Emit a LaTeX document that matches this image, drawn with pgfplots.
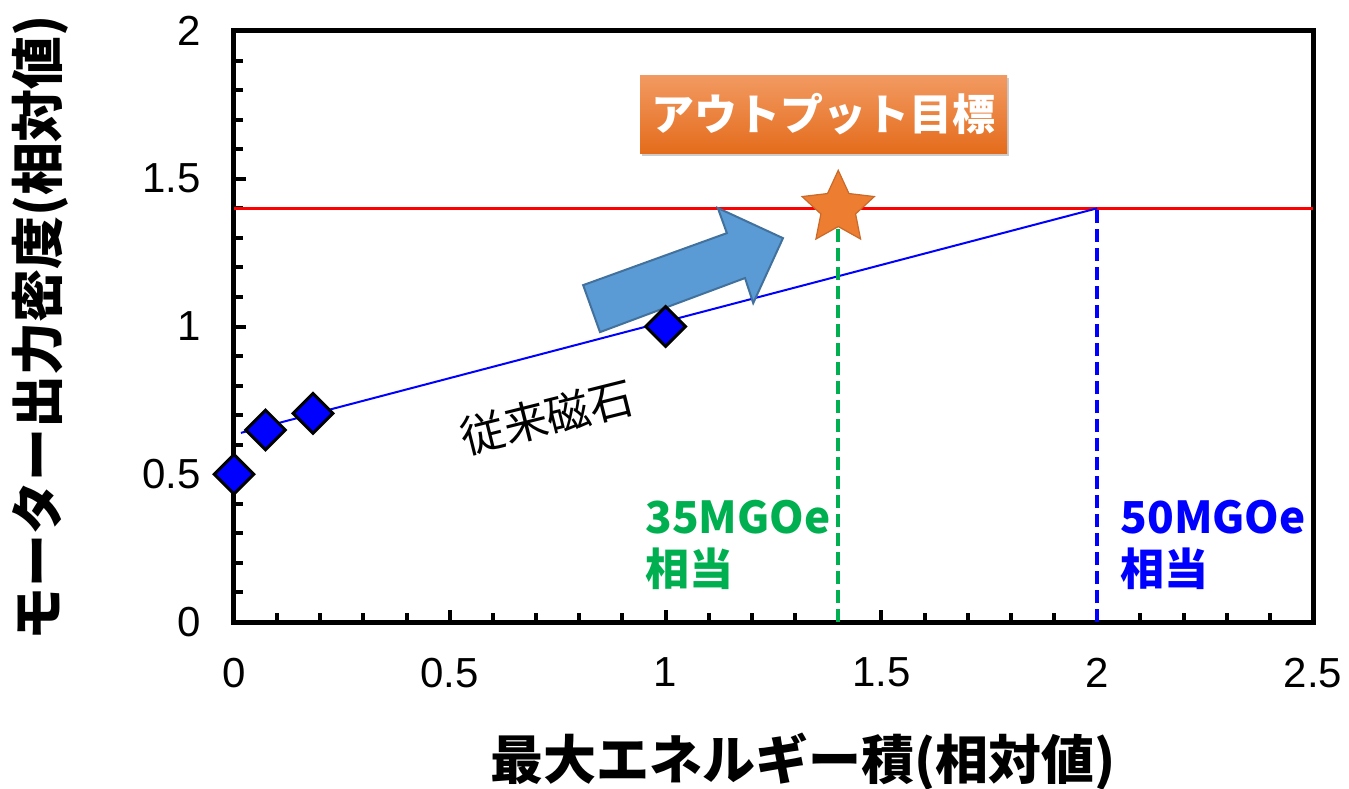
\documentclass[border=0pt]{standalone}
\usepackage{fontspec}
\usepackage{pgfplots}
\pgfplotsset{compat=1.18}
\usetikzlibrary{shadows}
\setmainfont{Liberation Sans}
\newfontfamily\jp{Noto Sans CJK JP}

\definecolor{mkblue}{RGB}{0,0,255}
\definecolor{okgreen}{RGB}{0,176,80}
\definecolor{arrowblue}{RGB}{91,155,213}
\definecolor{arrowedge}{RGB}{65,113,156}
\definecolor{starorange}{RGB}{237,125,49}
\definecolor{boxtop}{RGB}{242,154,98}
\definecolor{boxbottom}{RGB}{228,108,28}

% filled five-pointed star
\pgfdeclareplotmark{fivestar}{%
  \pgfpathmoveto{\pgfpointpolar{90}{\pgfplotmarksize}}%
  \pgfpathlineto{\pgfpointpolar{126}{0.48\pgfplotmarksize}}%
  \pgfpathlineto{\pgfpointpolar{162}{\pgfplotmarksize}}%
  \pgfpathlineto{\pgfpointpolar{198}{0.48\pgfplotmarksize}}%
  \pgfpathlineto{\pgfpointpolar{234}{\pgfplotmarksize}}%
  \pgfpathlineto{\pgfpointpolar{270}{0.48\pgfplotmarksize}}%
  \pgfpathlineto{\pgfpointpolar{306}{\pgfplotmarksize}}%
  \pgfpathlineto{\pgfpointpolar{342}{0.48\pgfplotmarksize}}%
  \pgfpathlineto{\pgfpointpolar{18}{\pgfplotmarksize}}%
  \pgfpathlineto{\pgfpointpolar{54}{0.48\pgfplotmarksize}}%
  \pgfpathclose
  \pgfusepathqfillstroke
}

\begin{document}
\begin{tikzpicture}
\begin{axis}[
  scale only axis,
  width=539.5pt, height=295.5pt,
  xmin=0, xmax=2.5, ymin=0, ymax=2,
  xtick={0,0.5,1,1.5,2,2.5},
  ytick={0,0.5,1,1.5,2},
  minor tick num=4,
  tick align=inside,
  xtick pos=left, ytick pos=left,
  major tick length=6pt, minor tick length=4.5pt,
  every tick/.style={black, line width=2pt},
  axis line style={line width=2.5pt},
  tick label style={font=\fontsize{21}{21}\selectfont},
  /pgf/number format/assume math mode=true,
  xticklabel shift=14.5pt,
  yticklabel shift=13pt,
  clip=false,
]
\coordinate (bl) at (rel axis cs:0,0);
\coordinate (tr) at (rel axis cs:1,1);
\coordinate (ylab) at (rel axis cs:0,0.497);

% target output level
\addplot[red, line width=1.5pt] coordinates {(0,1.4) (2.5,1.4)};
% trend of conventional magnets
\addplot[mkblue, line width=1pt] coordinates {(0.016,0.64) (2,1.4)};
% 35 MGOe and 50 MGOe equivalents
\addplot[okgreen, line width=2pt, dash pattern=on 6.5pt off 3pt] coordinates {(1.4,0) (1.4,1.4)};
\addplot[mkblue, line width=2pt, dash pattern=on 6.5pt off 3pt] coordinates {(2,0) (2,1.4)};

% block arrow
\draw[fill=arrowblue, draw=arrowedge, line width=1pt, line join=miter]
  (axis cs:0.848,0.981) -- (axis cs:0.809,1.140) -- (axis cs:1.142,1.316)
  -- (axis cs:1.121,1.401) -- (axis cs:1.272,1.299) -- (axis cs:1.203,1.079)
  -- (axis cs:1.184,1.164) -- cycle;

% conventional magnets
\addplot[only marks, mark=square*, mark size=7pt,
  mark options={rotate=45, fill=mkblue, draw=black, line width=1.5pt}]
  coordinates {(0,0.5) (0.073,0.65) (0.183,0.706) (1.0,1.0)};

% target
\addplot[only marks, mark=fivestar, mark size=19pt,
  mark options={fill=starorange, draw=starorange!85!black, line width=0.6pt,
    drop shadow={shadow xshift=0.8pt, shadow yshift=-0.8pt, opacity=0.35}}]
  coordinates {(1.4,1.4)};

\node[top color=boxtop, bottom color=boxbottom, minimum width=183.5pt,
  minimum height=39pt, inner sep=0pt, text=white,
  drop shadow={shadow xshift=1pt, shadow yshift=-1.5pt, opacity=0.4},
  font=\jp\bfseries\fontsize{21.5}{21.5}\selectfont]
  at (axis cs:1.366,1.719) {アウトプット目標};

\node[rotate=14, font=\jp\fontsize{22}{22}\selectfont]
  at (axis cs:0.725,0.694) {従来磁石};

\node[anchor=north west, inner sep=0pt, align=left, text=okgreen,
  font=\jp\bfseries\fontsize{22}{26}\selectfont]
  at (axis cs:0.952,0.413) {35MGOe\\相当};
\node[anchor=north west, inner sep=0pt, align=left, text=mkblue,
  font=\jp\bfseries\fontsize{22}{26}\selectfont]
  at (axis cs:2.053,0.413) {50MGOe\\相当};
\end{axis}

\node[font=\jp\bfseries\fontsize{26.5}{26.5}\selectfont]
  at ([xshift=284.5pt, yshift=-70pt]bl) {最大エネルギー積(相対値)};
\node[rotate=90, font=\jp\bfseries\fontsize{26.5}{26.5}\selectfont]
  at ([xshift=-97pt]ylab) {モーター出力密度(相対値)};

\pgfresetboundingbox
\path[use as bounding box] ([xshift=-117pt, yshift=-83pt]bl) rectangle ([xshift=18pt, yshift=15.5pt]tr);
\end{tikzpicture}
\end{document}
